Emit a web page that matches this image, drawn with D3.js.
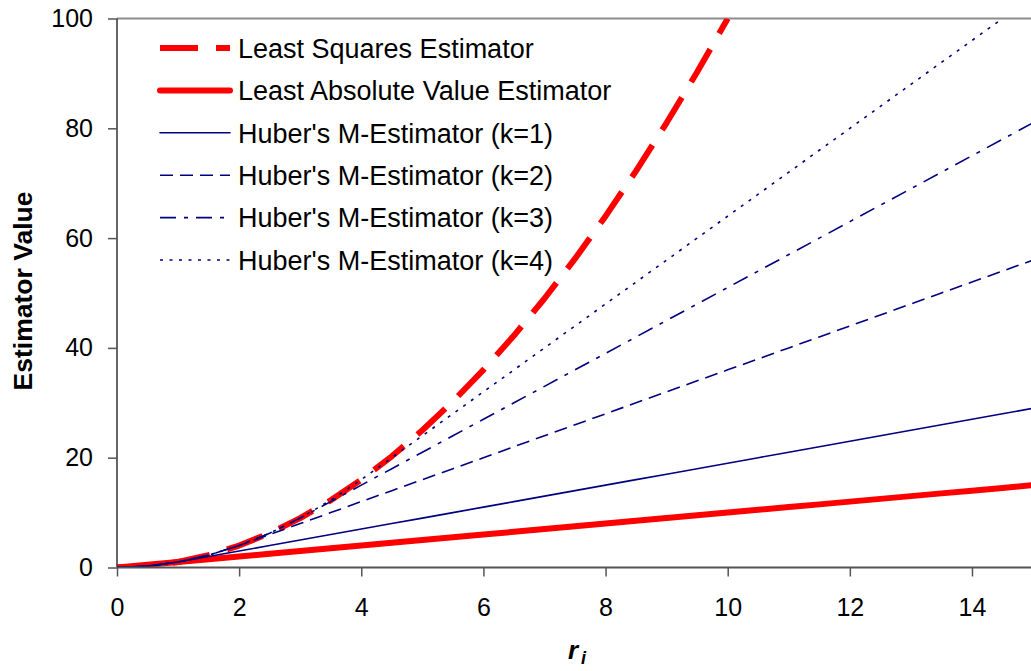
<!DOCTYPE html>
<html>
<head>
<meta charset="utf-8">
<script src="https://cdn.jsdelivr.net/npm/d3@7"></script>
<style>
  html, body { margin: 0; padding: 0; background: #fff; }
  svg { display: block; font-family: "Liberation Sans", Arial, Helvetica, sans-serif; }
</style>
</head>
<body>
<svg id="chart" width="1031" height="671"></svg>
<script>
// Residual values r_i at which each estimator is evaluated
const residuals = [0, 0.5, 1, 1.5, 2, 2.5, 3, 3.5, 4, 4.5, 5, 5.5, 6, 6.5, 7, 7.5,
                   8, 8.5, 9, 9.5, 10, 10.5, 11, 11.5, 12, 12.5, 13, 13.5, 14, 14.5, 15];

// Estimator values (series end where they leave the top of the plot)
const leastSquares = [0, 0.25, 1, 2.25, 4, 6.25, 9, 12.25, 16, 20.25, 25, 30.25, 36, 42.25,
                      49, 56.25, 64, 72.25, 81, 90.25, 100];
const leastAbsolute = [0, 0.5, 1, 1.5, 2, 2.5, 3, 3.5, 4, 4.5, 5, 5.5, 6, 6.5, 7, 7.5,
                       8, 8.5, 9, 9.5, 10, 10.5, 11, 11.5, 12, 12.5, 13, 13.5, 14, 14.5, 15];
const huberK1 = [0, 0.25, 1, 2, 3, 4, 5, 6, 7, 8, 9, 10, 11, 12, 13, 14,
                 15, 16, 17, 18, 19, 20, 21, 22, 23, 24, 25, 26, 27, 28, 29];
const huberK2 = [0, 0.25, 1, 2.25, 4, 6, 8, 10, 12, 14, 16, 18, 20, 22, 24, 26,
                 28, 30, 32, 34, 36, 38, 40, 42, 44, 46, 48, 50, 52, 54, 56];
const huberK3 = [0, 0.25, 1, 2.25, 4, 6.25, 9, 12, 15, 18, 21, 24, 27, 30, 33, 36,
                 39, 42, 45, 48, 51, 54, 57, 60, 63, 66, 69, 72, 75, 78, 81];
const huberK4 = [0, 0.25, 1, 2.25, 4, 6.25, 9, 12.25, 16, 20, 24, 28, 32, 36, 40, 44,
                 48, 52, 56, 60, 64, 68, 72, 76, 80, 84, 88, 92, 96, 100];

const seriesNames = [
  "Least Squares Estimator",
  "Least Absolute Value Estimator",
  "Huber's M-Estimator (k=1)",
  "Huber's M-Estimator (k=2)",
  "Huber's M-Estimator (k=3)",
  "Huber's M-Estimator (k=4)"
];
const xTicks = [0, 2, 4, 6, 8, 10, 12, 14];
const yTicks = [0, 20, 40, 60, 80, 100];

const RED = "#ff0000", NAVY = "#000080";
const series = [
  { name: seriesNames[0], values: leastSquares, color: RED, width: 6, dash: "38,18" },
  { name: seriesNames[1], values: leastAbsolute, color: RED, width: 6, dash: null },
  { name: seriesNames[2], values: huberK1, color: NAVY, width: 1.6, dash: null },
  { name: seriesNames[3], values: huberK2, color: NAVY, width: 1.6, dash: "13,7" },
  { name: seriesNames[4], values: huberK3, color: NAVY, width: 1.6, dash: "16,8,4,8" },
  { name: seriesNames[5], values: huberK4, color: NAVY, width: 1.6, dash: "3,6.5" }
];

const svg = d3.select("#chart");
const x = d3.scaleLinear().domain([0, 15]).range([117, 117 + 15 * 61.07]);
const y = d3.scaleLinear().domain([0, 100]).range([567.5, 18.5]);

// plot clip so lines stop at the frame
svg.append("defs").append("clipPath").attr("id", "plot-clip")
  .append("rect")
  .attr("x", x(0)).attr("y", y(100))
  .attr("width", 1031 - x(0)).attr("height", y(0) - y(100));

// top frame line
svg.append("line")
  .attr("x1", x(0)).attr("x2", 1031)
  .attr("y1", y(100)).attr("y2", y(100))
  .attr("stroke", "#8c8c8c").attr("stroke-width", 2);

// series lines
const line = d3.line()
  .x((d, i) => x(residuals[i]))
  .y(d => y(d));

const plot = svg.append("g").attr("clip-path", "url(#plot-clip)");
series.forEach(s => {
  plot.append("path")
    .datum(s.values)
    .attr("d", line)
    .attr("fill", "none")
    .attr("stroke", s.color)
    .attr("stroke-width", s.width)
    .attr("stroke-linejoin", "round")
    .attr("stroke-dasharray", s.dash);
});

// axes
const xAxis = d3.axisBottom(x).tickValues(xTicks).tickSize(9).tickPadding(22)
  .tickFormat(d3.format("d"));
const yAxis = d3.axisLeft(y).tickValues(yTicks).tickSize(9).tickPadding(15)
  .tickFormat(d3.format("d"));

const gx = svg.append("g").attr("transform", `translate(0,${y(0)})`).call(xAxis);
const gy = svg.append("g").attr("transform", `translate(${x(0)},0)`).call(yAxis);

gx.select(".domain").attr("d", `M${x(0)},0H1031`).attr("stroke", "#555").attr("stroke-width", 2);
gy.select(".domain").attr("d", `M0,${y(100)}V${y(0)}`).attr("stroke", "#333").attr("stroke-width", 1.5);
[gx, gy].forEach(g => {
  g.selectAll(".tick line").attr("stroke", "#555").attr("stroke-width", 1.5);
  g.selectAll(".tick text").attr("font-size", 25).attr("fill", "#000")
    .attr("font-family", "'Liberation Sans', Arial, sans-serif");
});

// axis titles
svg.append("text")
  .attr("transform", `translate(32,291) rotate(-90)`)
  .attr("text-anchor", "middle")
  .attr("font-size", 26.5).attr("font-weight", "bold")
  .text("Estimator Value");

const xt = svg.append("text")
  .attr("x", 577).attr("y", 659)
  .attr("text-anchor", "middle")
  .attr("font-size", 26).attr("font-weight", "bold").attr("font-style", "italic");
xt.append("tspan").text("r");
xt.append("tspan").attr("dy", 5).attr("dx", 3).attr("font-size", 18).text("i");

// legend
const legend = svg.append("g");
series.forEach((s, i) => {
  const cy = 48 + i * 42.4;
  legend.append("line")
    .attr("x1", 160).attr("x2", 230)
    .attr("y1", cy).attr("y2", cy)
    .attr("stroke", s.color)
    .attr("stroke-width", s.width)
    .attr("stroke-linecap", s.dash ? "butt" : "round")
    .attr("stroke-dasharray", s.dash);
  legend.append("text")
    .attr("x", 238).attr("y", cy).attr("dy", "0.36em")
    .attr("font-size", 27)
    .text(s.name);
});
</script>
</body>
</html>
